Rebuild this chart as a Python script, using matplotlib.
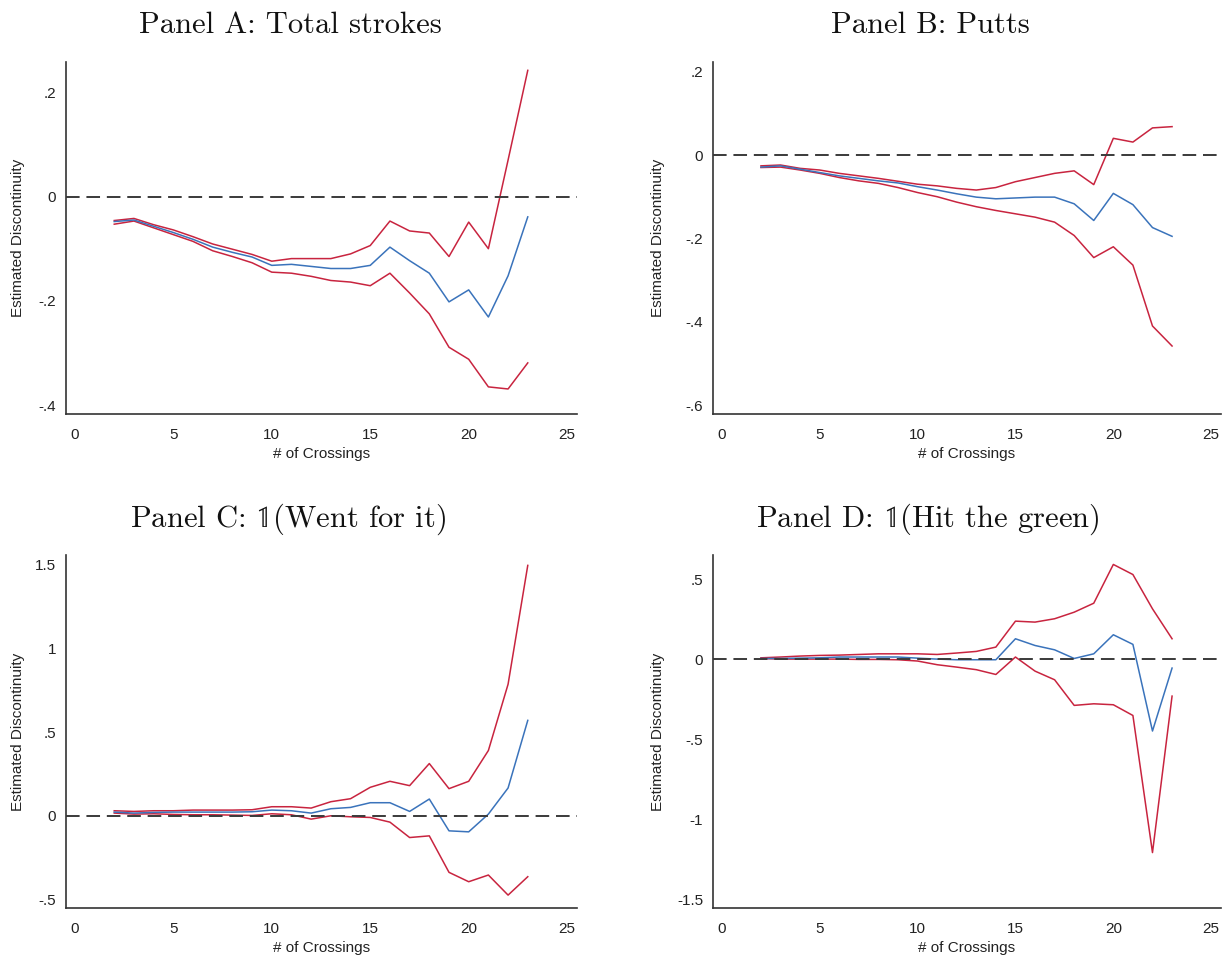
import matplotlib
matplotlib.use("Agg")
import matplotlib.pyplot as plt

# ---------------- data ----------------
crossings = list(range(2, 24))

# Panel A: Total strokes
a_est = [-0.048, -0.045, -0.057, -0.069, -0.082, -0.097, -0.107, -0.116, -0.132, -0.130, -0.134,
         -0.138, -0.138, -0.132, -0.097, -0.123, -0.147, -0.202, -0.179, -0.231, -0.152, -0.039]
a_hi = [-0.046, -0.042, -0.054, -0.064, -0.077, -0.091, -0.101, -0.111, -0.124, -0.119, -0.119,
        -0.119, -0.110, -0.094, -0.047, -0.066, -0.070, -0.115, -0.049, -0.100, 0.070, 0.242]
a_lo = [-0.053, -0.047, -0.060, -0.073, -0.086, -0.104, -0.115, -0.127, -0.145, -0.147, -0.153,
        -0.161, -0.164, -0.171, -0.147, -0.185, -0.225, -0.289, -0.312, -0.365, -0.369, -0.319]

# Panel B: Putts
b_est = [-0.029, -0.026, -0.034, -0.042, -0.050, -0.056, -0.062, -0.067, -0.076, -0.084, -0.093,
         -0.101, -0.105, -0.103, -0.101, -0.101, -0.117, -0.157, -0.092, -0.119, -0.174, -0.195]
b_hi = [-0.026, -0.024, -0.032, -0.036, -0.044, -0.050, -0.056, -0.063, -0.070, -0.074, -0.080,
        -0.084, -0.078, -0.064, -0.054, -0.044, -0.038, -0.071, 0.040, 0.031, 0.065, 0.068]
b_lo = [-0.030, -0.029, -0.036, -0.044, -0.054, -0.062, -0.068, -0.078, -0.090, -0.100, -0.113,
        -0.124, -0.133, -0.141, -0.149, -0.161, -0.193, -0.246, -0.220, -0.264, -0.410, -0.458]

# Panel C: 1(Went for it)
c_est = [0.022, 0.016, 0.020, 0.022, 0.022, 0.022, 0.022, 0.024, 0.034, 0.030, 0.016,
         0.042, 0.050, 0.078, 0.078, 0.026, 0.100, -0.090, -0.096, 0.010, 0.166, 0.570]
c_hi = [0.030, 0.026, 0.030, 0.030, 0.034, 0.034, 0.034, 0.036, 0.054, 0.054, 0.046,
        0.084, 0.102, 0.170, 0.206, 0.180, 0.312, 0.162, 0.206, 0.390, 0.786, 1.496]
c_lo = [0.016, 0.010, 0.012, 0.008, 0.006, 0.006, 0.004, 0.002, 0.012, 0.006, -0.020,
        0.000, -0.006, -0.010, -0.038, -0.130, -0.120, -0.338, -0.394, -0.354, -0.474, -0.364]

# Panel D: 1(Hit the green)
d_est = [0.006, 0.006, 0.008, 0.010, 0.015, 0.015, 0.015, 0.015, 0.008, 0.002, -0.002,
         -0.002, -0.002, 0.129, 0.087, 0.060, 0.006, 0.035, 0.154, 0.094, -0.447, -0.054]
d_hi = [0.010, 0.015, 0.021, 0.025, 0.027, 0.031, 0.035, 0.035, 0.035, 0.031, 0.040,
        0.050, 0.077, 0.239, 0.233, 0.254, 0.295, 0.351, 0.593, 0.530, 0.316, 0.129]
d_lo = [0.006, 0.002, 0.002, 0.002, 0.002, 0.000, 0.000, -0.002, -0.010, -0.033, -0.048,
        -0.064, -0.094, 0.015, -0.073, -0.127, -0.287, -0.277, -0.283, -0.350, -1.206, -0.229]

titles = ["Panel A: Total strokes", "Panel B: Putts",
          r"Panel C: $\mathbb{1}$(Went for it)", r"Panel D: $\mathbb{1}$(Hit the green)"]

x_ticks = [0, 5, 10, 15, 20, 25]
a_yticks = [0.2, 0.0, -0.2, -0.4]
a_ylabels = [".2", "0", "-.2", "-.4"]
b_yticks = [0.2, 0.0, -0.2, -0.4, -0.6]
b_ylabels = [".2", "0", "-.2", "-.4", "-.6"]
c_yticks = [1.5, 1.0, 0.5, 0.0, -0.5]
c_ylabels = ["1.5", "1", ".5", "0", "-.5"]
d_yticks = [0.5, 0.0, -0.5, -1.0, -1.5]
d_ylabels = [".5", "0", "-.5", "-1", "-1.5"]

xlabel = "# of Crossings"
ylabel = "Estimated Discontinuity"

# ---------------- styling ----------------
W, H = 1225, 957
BLUE = "#3a73bb"
RED = "#c8243f"
SPINE = "#333333"
plt.rcParams["font.family"] = ["Liberation Sans", "DejaVu Sans"]
plt.rcParams["mathtext.fontset"] = "stix"

fig = plt.figure(figsize=(W / 100, H / 100), dpi=100)


def px_axes(left, right, top, bottom):
    return fig.add_axes([left / W, 1 - bottom / H, (right - left) / W, (bottom - top) / H])


panels = [
    dict(box=(66, 577, 62, 414), est=a_est, hi=a_hi, lo=a_lo, ylim=(-0.417, 0.258),
         yt=a_yticks, yl=a_ylabels, ylx=-0.081),
    dict(box=(713, 1221, 62, 414), est=b_est, hi=b_hi, lo=b_lo, ylim=(-0.621, 0.223),
         yt=b_yticks, yl=b_ylabels, ylx=-0.095),
    dict(box=(66, 577, 555, 908), est=c_est, hi=c_hi, lo=c_lo, ylim=(-0.551, 1.558),
         yt=c_yticks, yl=c_ylabels, ylx=-0.081),
    dict(box=(713, 1221, 555, 908), est=d_est, hi=d_hi, lo=d_lo, ylim=(-1.552, 0.652),
         yt=d_yticks, yl=d_ylabels, ylx=-0.095),
]

title_pos = [(290, 33), (930, 33), (288, 527), (928, 527)]

for p, title, (tx, ty) in zip(panels, titles, title_pos):
    ax = px_axes(*p["box"])
    ax.plot(crossings, p["hi"], color=RED, lw=1.1, zorder=2)
    ax.plot(crossings, p["lo"], color=RED, lw=1.1, zorder=2)
    ax.plot(crossings, p["est"], color=BLUE, lw=1.1, zorder=3)
    ax.axhline(0, color="#3a3a3a", lw=1.4, ls=(0, (7, 3.5)), zorder=4)
    ax.set_xlim(-0.45, 25.5)
    ax.set_ylim(*p["ylim"])
    ax.set_xticks(x_ticks)
    ax.set_xticklabels([str(v) for v in x_ticks])
    ax.set_yticks(p["yt"])
    ax.set_yticklabels(p["yl"])
    ax.tick_params(axis="x", length=0, pad=10, labelsize=11, colors="#222222")
    ax.tick_params(axis="y", length=0, pad=7, labelsize=11, colors="#222222")
    for s in ["top", "right"]:
        ax.spines[s].set_visible(False)
    for s in ["left", "bottom"]:
        ax.spines[s].set_color(SPINE)
        ax.spines[s].set_linewidth(1.2)
    ax.set_xlabel(xlabel, fontsize=11, color="#222222", labelpad=4)
    ax.set_ylabel(ylabel, fontsize=11, color="#222222")
    ax.yaxis.set_label_coords(p["ylx"], 0.5)
    fig.text(tx / W, 1 - ty / H, title, ha="center", va="baseline",
             fontsize=22, family="cmr10", math_fontfamily="stix", color="#111111")

fig.savefig("out.png", dpi=100, facecolor="white")
